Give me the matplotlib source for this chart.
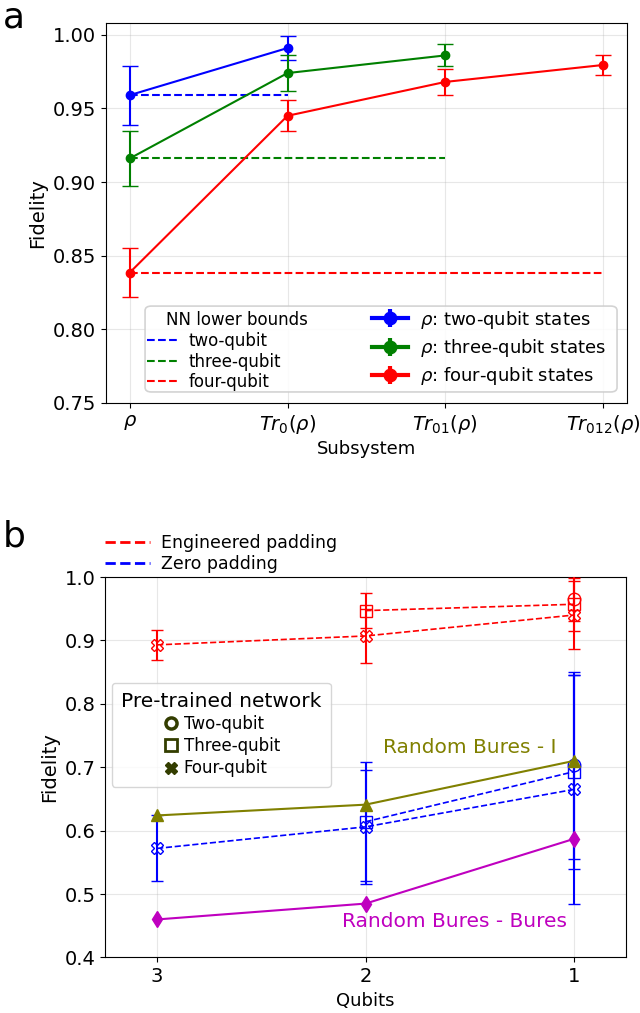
import matplotlib.pyplot as plt
from matplotlib.lines import Line2D
from matplotlib.patches import FancyBboxPatch

# ---- panel a data ----
subsystems = [r"$\rho$", r"$Tr_0(\rho)$", r"$Tr_{01}(\rho)$", r"$Tr_{012}(\rho)$"]
two_qubit_fid = [0.959, 0.991]
two_qubit_err = [0.020, 0.008]
three_qubit_fid = [0.916, 0.974, 0.986]
three_qubit_err = [0.019, 0.012, 0.0075]
four_qubit_fid = [0.8385, 0.945, 0.968, 0.9795]
four_qubit_err = [0.0165, 0.0105, 0.009, 0.007]
nn_bounds = [0.959, 0.916, 0.8385]
nn_bound_labels = ["two-qubit", "three-qubit", "four-qubit"]

# ---- panel b data ----
qubits = [3, 2, 1]
zero_two_x, zero_two_y, zero_two_err = [1], [0.703], [0.147]
zero_three_x, zero_three_y, zero_three_err = [2, 1], [0.614, 0.693], [0.094, 0.153]
zero_four_x, zero_four_y, zero_four_err = [3, 2, 1], [0.572, 0.606, 0.665], [0.052, 0.090, 0.180]
eng_two_x, eng_two_y, eng_two_err = [1], [0.966], [0.035]
eng_three_x, eng_three_y, eng_three_err = [2, 1], [0.947, 0.957], [0.028, 0.042]
eng_four_x, eng_four_y, eng_four_err = [3, 2, 1], [0.893, 0.907, 0.940], [0.024, 0.042, 0.054]
random_bures_i = [0.624, 0.641, 0.710]
random_bures_bures = [0.460, 0.485, 0.587]

plt.rcParams["font.family"] = "DejaVu Sans"

fig = plt.figure(figsize=(6.4, 10.13), dpi=100)
ax_a = fig.add_axes([0.1656, 0.6022, 0.814, 0.3751])
ax_b = fig.add_axes([0.1641, 0.0548, 0.814, 0.3756])

# ================= panel a =================
colors = ["blue", "green", "red"]
series = [
    (two_qubit_fid, two_qubit_err, r"$\rho$: two-qubit states"),
    (three_qubit_fid, three_qubit_err, r"$\rho$: three-qubit states"),
    (four_qubit_fid, four_qubit_err, r"$\rho$: four-qubit states"),
]
for (fid, err, label), c in zip(series, colors):
    ax_a.errorbar(range(len(fid)), fid, yerr=err, color=c, marker="o", ms=6,
                  lw=1.5, capsize=5.5, zorder=3)

bound_handles = []
for i, (b, c, lab) in enumerate(zip(nn_bounds, colors, nn_bound_labels)):
    (ln,) = ax_a.plot([0, i + 1], [b, b], "--", color=c, lw=1.5, label=lab, zorder=2)
    bound_handles.append(ln)

ax_a.set_xticks(range(len(subsystems)))
ax_a.set_xticklabels(subsystems)
ax_a.set_xlim(-0.15, 3.15)
ax_a.set_ylim(0.75, 1.008)
ax_a.set_yticks([0.75, 0.80, 0.85, 0.90, 0.95, 1.00])
ax_a.tick_params(labelsize=14)
ax_a.set_xlabel("Subsystem", fontsize=13, labelpad=3)
ax_a.set_ylabel("Fidelity", fontsize=14)
ax_a.grid(True, alpha=0.3)

frame = FancyBboxPatch((0.075, 0.029), 0.906, 0.226, transform=ax_a.transAxes,
                       boxstyle="round,pad=0,rounding_size=0.012",
                       fc="white", ec="0.8", lw=1.2, alpha=0.85, zorder=4)
ax_a.add_patch(frame)

ax_a.text(0.2514, 0.218, "NN lower bounds", transform=ax_a.transAxes, fontsize=12,
          ha="center", va="center", zorder=6)
leg_bounds = ax_a.legend(handles=bound_handles, fontsize=12, loc="center left",
                         bbox_to_anchor=(0.079, 0.109), frameon=False, borderpad=0,
                         borderaxespad=0, labelspacing=0.15, handlelength=2.0,
                         handletextpad=0.5)
leg_bounds.set_zorder(5)
ax_a.add_artist(leg_bounds)

# legend handles for the three state series, drawn a bit heavier as in the figure
err_handles = []
for (fid, err, label), c in zip(series, colors):
    h = ax_a.errorbar([], [], yerr=[], color=c, marker="o", ms=9, lw=3, capsize=7,
                      capthick=2, label=label)
    err_handles.append(h)
leg_err = ax_a.legend(handles=err_handles, fontsize=13, loc="center left",
                      bbox_to_anchor=(0.51, 0.145), frameon=False, borderpad=0,
                      borderaxespad=0, labelspacing=0.35, handletextpad=0.7)
leg_err.set_zorder(5)

# ================= panel b =================
open_kw = dict(mfc="none", ms=9, mew=1.0, capsize=4, elinewidth=1.5, zorder=3)
for x, y, e, m in [(eng_two_x, eng_two_y, eng_two_err, "o"),
                   (eng_three_x, eng_three_y, eng_three_err, "s"),
                   (eng_four_x, eng_four_y, eng_four_err, "X")]:
    ax_b.errorbar(x, y, yerr=e, color="red", marker=m, ls="--", lw=1.2, **open_kw)
for x, y, e, m in [(zero_two_x, zero_two_y, zero_two_err, "o"),
                   (zero_three_x, zero_three_y, zero_three_err, "s"),
                   (zero_four_x, zero_four_y, zero_four_err, "X")]:
    ax_b.errorbar(x, y, yerr=e, color="blue", marker=m, ls="--", lw=1.2, **open_kw)

ax_b.plot(qubits, random_bures_i, color="olive", marker="^", ms=8, lw=1.5, zorder=4)
ax_b.plot(qubits, random_bures_bures, color="m", marker="d", ms=8, lw=1.5, zorder=4)
ax_b.text(1.917, 0.731, "Random Bures - I", color="olive", fontsize=14.5, va="center")
ax_b.text(2.114, 0.456, "Random Bures - Bures", color="m", fontsize=14.5, va="center")

ax_b.set_xlim(3.25, 0.75)
ax_b.set_ylim(0.4, 1.0)
ax_b.set_xticks(qubits)
ax_b.set_yticks([0.4, 0.5, 0.6, 0.7, 0.8, 0.9, 1.0])
ax_b.tick_params(labelsize=14)
ax_b.set_xlabel("Qubits", fontsize=13, labelpad=4)
ax_b.set_ylabel("Fidelity", fontsize=14)
ax_b.grid(True, alpha=0.3)

pad_handles = [Line2D([], [], color="red", ls="--", lw=2),
               Line2D([], [], color="blue", ls="--", lw=2)]
leg_pad = ax_b.legend(handles=pad_handles, labels=["Engineered padding", "Zero padding"],
                      fontsize=12.5, loc="lower left", bbox_to_anchor=(0.0, 1.01),
                      frameon=False, borderpad=0, borderaxespad=0, labelspacing=0.2,
                      handlelength=2.6, handletextpad=0.6)
ax_b.add_artist(leg_pad)

net_color = "#333d00"
net_handles = [Line2D([], [], ls="none", marker="o", mfc="none", mec=net_color, mew=2.5, ms=8),
               Line2D([], [], ls="none", marker="s", mfc="none", mec=net_color, mew=2.0, ms=8),
               Line2D([], [], ls="none", marker="X", color=net_color, ms=9)]
leg_net = ax_b.legend(handles=net_handles, labels=["Two-qubit", "Three-qubit", "Four-qubit"],
                      title="Pre-trained network", fontsize=12, title_fontsize=14.5,
                      loc="upper left", bbox_to_anchor=(0.013, 0.722), borderaxespad=0,
                      labelspacing=0.25, handletextpad=0.3, handlelength=1.0,
                      borderpad=0.55)
leg_net.set_zorder(5)

fig.text(0.005, 1.0, "a", fontsize=26, va="top", ha="left")
fig.text(0.005, 0.487, "b", fontsize=26, va="top", ha="left")

plt.savefig("out.png", dpi=100)
